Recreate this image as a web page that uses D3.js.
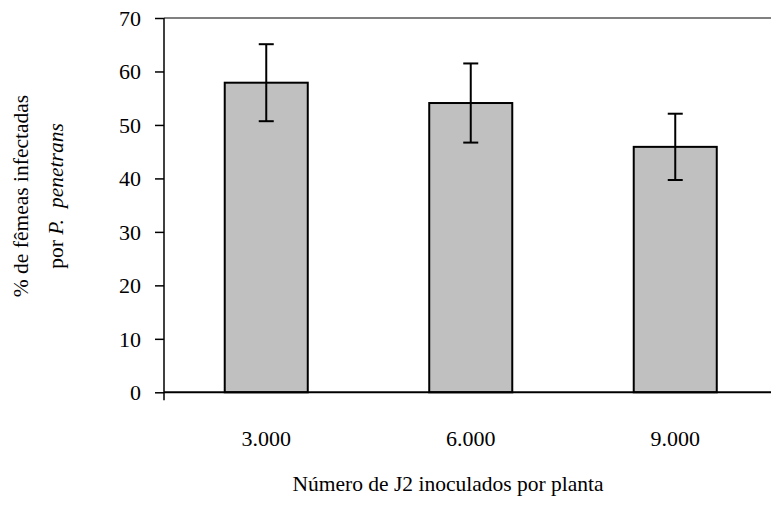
<!DOCTYPE html>
<html>
<head>
<meta charset="utf-8">
<script src="https://cdn.jsdelivr.net/npm/d3@7"></script>
<style>
  body { margin: 0; background: #fff; }
  text { font-family: "Liberation Serif", "Times New Roman", serif; fill: #000; }
</style>
</head>
<body>
<div id="chart"></div>
<script>
"use strict";

/* Chart data */
const categories = ["3.000", "6.000", "9.000"];
const means = [57.9, 54.1, 45.9];
const errors = [7.2, 7.4, 6.2];
const yTicks = [0, 10, 20, 30, 40, 50, 60, 70];

const width = 771, height = 507;
const margin = {top: 18, left: 164, bottom: 392.3, right: 777.5};
const serif = "'Liberation Serif', 'Times New Roman', serif";

const svg = d3.select("#chart").append("svg")
    .attr("width", width)
    .attr("height", height);

/* Scales */
const x = d3.scaleBand()
    .domain(categories)
    .range([margin.left, margin.right])
    .paddingInner(0.594)
    .paddingOuter(0.297);

const y = d3.scaleLinear()
    .domain([0, 70])
    .range([margin.bottom, margin.top]);

/* Top border of the plot area */
svg.append("line")
    .attr("x1", margin.left).attr("x2", width)
    .attr("y1", y(70)).attr("y2", y(70))
    .attr("stroke", "#808080")
    .attr("stroke-width", 2);

/* Bars */
svg.selectAll(".bar")
    .data(means)
    .enter().append("rect")
    .attr("class", "bar")
    .attr("x", function(d, i) { return x(categories[i]); })
    .attr("y", function(d) { return y(d); })
    .attr("width", x.bandwidth())
    .attr("height", function(d) { return y(0) - y(d); })
    .attr("fill", "#c0c0c0")
    .attr("stroke", "#000")
    .attr("stroke-width", 2);

/* Error bars */
const cap = 7.5;
const err = svg.selectAll(".err")
    .data(means)
    .enter().append("g")
    .attr("class", "err")
    .attr("stroke", "#000")
    .attr("stroke-width", 2);

err.append("line")
    .attr("x1", function(d, i) { return x(categories[i]) + x.bandwidth() / 2; })
    .attr("x2", function(d, i) { return x(categories[i]) + x.bandwidth() / 2; })
    .attr("y1", function(d, i) { return y(d - errors[i]); })
    .attr("y2", function(d, i) { return y(d + errors[i]); });

[1, -1].forEach(function(sign) {
  err.append("line")
      .attr("x1", function(d, i) { return x(categories[i]) + x.bandwidth() / 2 - cap; })
      .attr("x2", function(d, i) { return x(categories[i]) + x.bandwidth() / 2 + cap; })
      .attr("y1", function(d, i) { return y(d + sign * errors[i]); })
      .attr("y2", function(d, i) { return y(d + sign * errors[i]); });
});

/* Y axis */
const yAxis = svg.append("g")
    .attr("transform", "translate(" + margin.left + ",0)")
    .call(d3.axisLeft(y).tickValues(yTicks).tickSize(9).tickPadding(14))
    .attr("font-family", serif)
    .attr("font-size", 22);
yAxis.select(".domain")
    .attr("stroke", "#000")
    .attr("stroke-width", 1.5)
    .attr("d", "M0," + y(70) + "V" + (y(0) + 8));
yAxis.selectAll(".tick line").attr("stroke", "#000").attr("stroke-width", 1.5);
yAxis.selectAll(".tick text")
    .attr("fill", "#000")
    .attr("dy", "0.34em");

/* X axis */
svg.append("line")
    .attr("x1", margin.left).attr("x2", width)
    .attr("y1", y(0)).attr("y2", y(0))
    .attr("stroke", "#000")
    .attr("stroke-width", 2);

svg.selectAll(".xlabel")
    .data(categories)
    .enter().append("text")
    .attr("class", "xlabel")
    .attr("x", function(d) { return x(d) + x.bandwidth() / 2; })
    .attr("y", 446)
    .attr("text-anchor", "middle")
    .style("font-size", "22px")
    .text(function(d) { return d; });

/* Axis titles */
svg.append("text")
    .attr("x", 448)
    .attr("y", 491)
    .attr("text-anchor", "middle")
    .style("font-size", "21.5px")
    .text("Número de J2 inoculados por planta");

const yTitle = svg.append("text")
    .attr("transform", "translate(0,196) rotate(-90)")
    .attr("text-anchor", "middle")
    .style("font-size", "21.5px");
yTitle.append("tspan")
    .attr("x", 0).attr("y", 28)
    .text("% de fêmeas infectadas");
const line2 = yTitle.append("tspan")
    .attr("x", 0).attr("y", 63);
line2.append("tspan").text("por ");
line2.append("tspan").style("font-style", "italic").text("P.");
line2.append("tspan").style("font-style", "italic").attr("dx", 11).text("penetrans");
</script>
</body>
</html>
